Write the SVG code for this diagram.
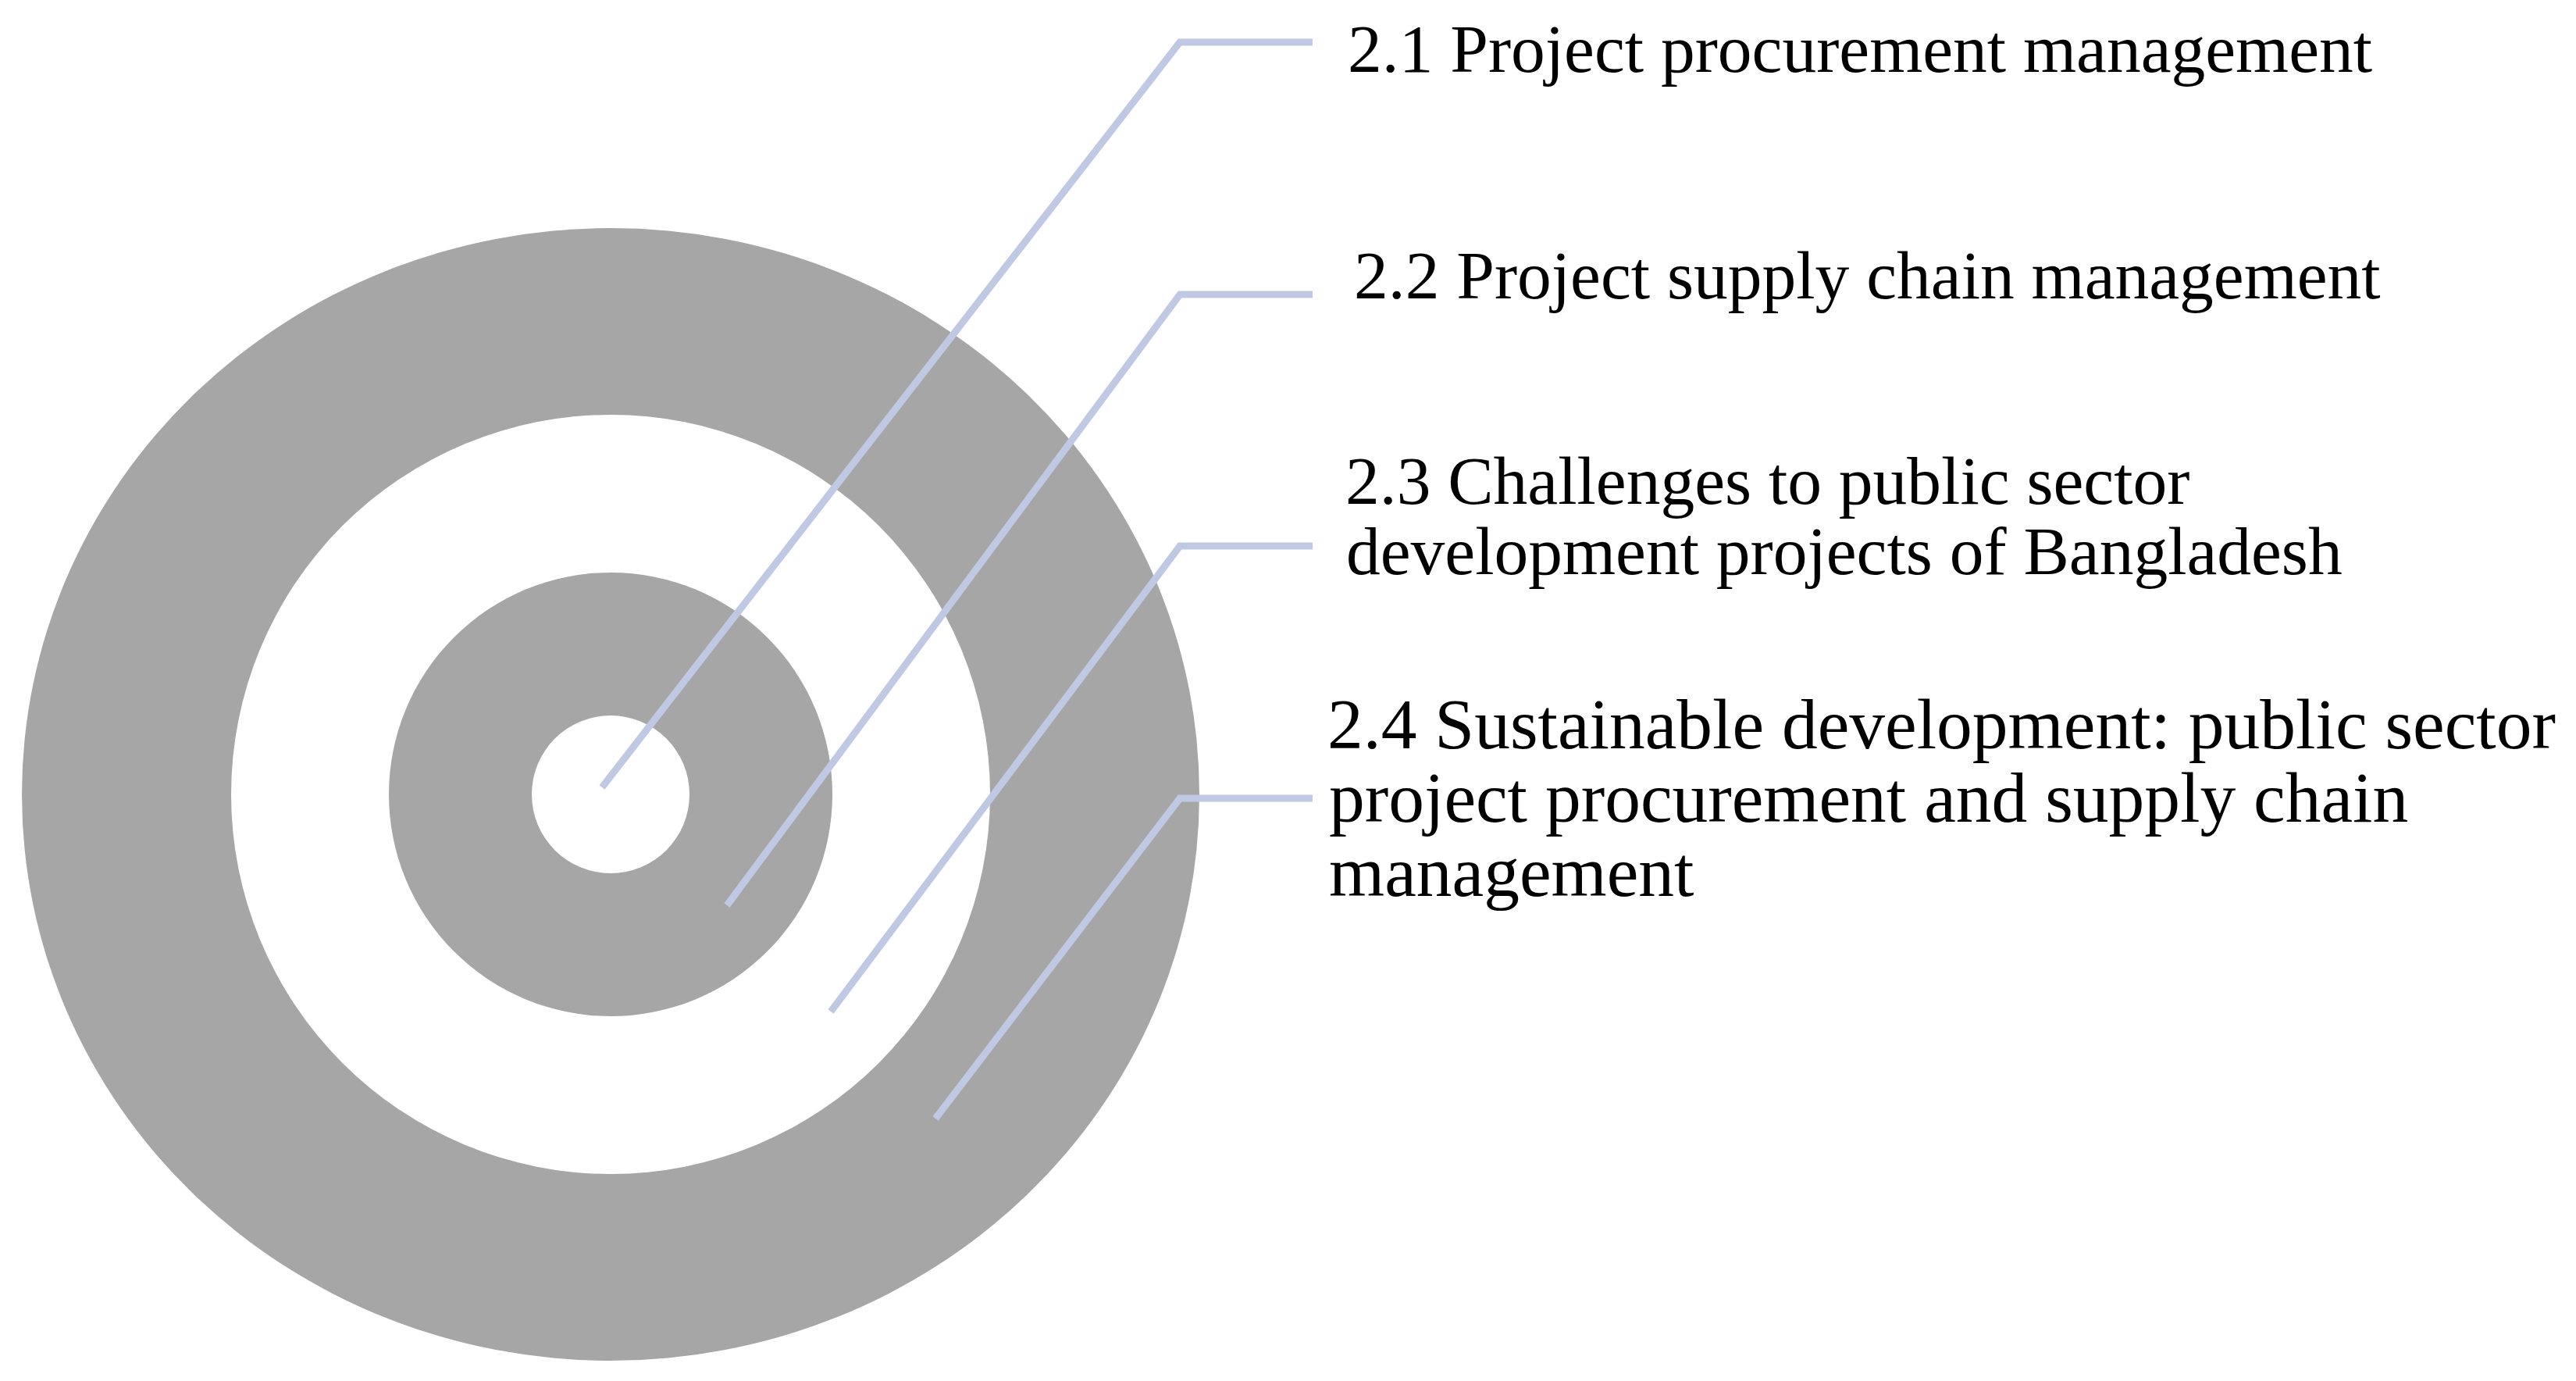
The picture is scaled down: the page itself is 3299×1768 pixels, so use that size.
<svg xmlns="http://www.w3.org/2000/svg" width="3299" height="1768" viewBox="0 0 3299 1768">
<style>
.ring-gray{fill:#A6A6A6;}
.ring-white{fill:#FFFFFF;}
.conn{fill:none;stroke:#BFC9E3;stroke-width:9;stroke-linejoin:miter;stroke-linecap:butt;}
.lbl{font-family:"Liberation Serif","Times New Roman",serif;font-size:87.5px;fill:#000000;}
.lbl4{font-size:91.5px;}
</style>
<rect x="0" y="0" width="3299" height="1768" fill="#FFFFFF"/>
<g id="target">
<ellipse id="ring-outer" class="ring-gray" cx="782" cy="1017" rx="754" ry="725"/>
<circle id="ring-2" class="ring-white" cx="782" cy="1017" r="486"/>
<circle id="ring-3" class="ring-gray" cx="782" cy="1017" r="284"/>
<circle id="ring-inner" class="ring-white" cx="782" cy="1017" r="101"/>
</g>
<g id="connectors">
<polyline class="conn" points="771,1008 1511,54 1681,54"/>
<polyline class="conn" points="931,1159 1511,377 1681,377"/>
<polyline class="conn" points="1064,1295 1511,699 1681,699"/>
<polyline class="conn" points="1198,1432 1511,1022 1681,1022"/>
</g>
<g id="label-2-1">
<text class="lbl" x="1726" y="92">2.1 Project procurement management</text>
</g>
<g id="label-2-2">
<text class="lbl" x="1734" y="382">2.2 Project supply chain management</text>
</g>
<g id="label-2-3">
<text class="lbl" x="1723" y="644.5">2.3 Challenges to public sector</text>
<text class="lbl" x="1724" y="734.5">development projects of Bangladesh</text>
</g>
<g id="label-2-4">
<text class="lbl lbl4" x="1700" y="958">2.4 Sustainable development: public sector</text>
<text class="lbl lbl4" x="1702" y="1052">project procurement and supply chain</text>
<text class="lbl lbl4" x="1702" y="1147">management</text>
</g>
</svg>
